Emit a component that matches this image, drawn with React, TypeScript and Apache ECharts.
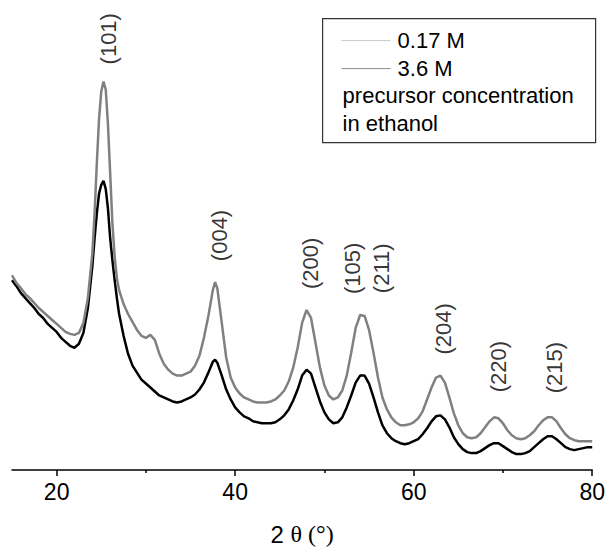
import React, { useEffect, useRef } from "react";
import * as echarts from "echarts";

// 2θ positions (degrees)
const twoTheta: number[] = [
  15.0, 15.5, 16.0, 16.5, 17.0, 17.5, 18.0, 18.5, 19.0, 19.5,
  20.0, 20.5, 21.0, 21.5, 22.0, 22.5, 23.0, 23.5, 24.0, 24.25,
  24.5, 24.75, 25.0, 25.25, 25.5, 25.75, 26.0, 26.25, 26.5, 26.75,
  27.0, 27.5, 28.0, 28.5, 29.0, 29.5, 30.0, 30.5, 31.0, 31.5,
  32.0, 32.5, 33.0, 33.5, 34.0, 34.5, 35.0, 35.5, 36.0, 36.5,
  37.0, 37.5, 37.75, 38.0, 38.5, 39.0, 39.5, 40.0, 40.5, 41.0,
  41.5, 42.0, 42.5, 43.0, 43.5, 44.0, 44.5, 45.0, 45.5, 46.0,
  46.5, 47.0, 47.5, 48.0, 48.5, 49.0, 49.5, 50.0, 50.5, 51.0,
  51.5, 52.0, 52.5, 53.0, 53.5, 54.0, 54.5, 55.0, 55.5, 56.0,
  56.5, 57.0, 57.5, 58.0, 58.5, 59.0, 59.5, 60.0, 60.5, 61.0,
  61.5, 62.0, 62.5, 63.0, 63.5, 64.0, 64.5, 65.0, 65.5, 66.0,
  66.5, 67.0, 67.5, 68.0, 68.5, 69.0, 69.5, 70.0, 70.5, 71.0,
  71.5, 72.0, 72.5, 73.0, 73.5, 74.0, 74.5, 75.0, 75.5, 76.0,
  76.5, 77.0, 77.5, 78.0, 78.5, 79.0, 79.5, 80.0,
];

// Intensity (a.u.), 0.17 M precursor (grey)
const int017: number[] = [
  196, 188, 183, 177, 173, 168, 163, 159, 155, 151,
  147, 143, 139, 137, 136, 138, 148, 173, 218, 258,
  308, 353, 381, 391, 383, 348, 298, 248, 215, 193,
  181, 167, 157, 149, 141, 135, 133, 136, 131, 117,
  107, 101, 97, 95, 95, 97, 99, 105, 115, 133,
  155, 181, 189, 183, 148, 113, 93, 83, 77, 73,
  71, 69, 68, 68, 68, 69, 71, 75, 80, 89,
  103, 123, 148, 161, 153, 128, 103, 85, 75, 71,
  73, 80, 95, 118, 143, 156, 155, 141, 118, 93,
  73, 61, 53, 48, 45, 45, 46, 48, 52, 59,
  71, 83, 93, 95, 88, 73, 57, 45, 37, 33,
  32, 33, 37, 43, 49, 53, 52, 47, 40, 35,
  32, 31, 32, 35, 39, 45, 50, 53, 53, 49,
  42, 36, 32, 30, 29, 29, 29, 29,
];

// Intensity (a.u.), 3.6 M precursor (black)
const int36: number[] = [
  191, 185, 178, 173, 168, 163, 157, 153, 147, 143,
  139, 133, 129, 125, 123, 127, 138, 163, 205, 233,
  258, 278, 287, 291, 283, 263, 233, 211, 191, 173,
  157, 135, 117, 105, 98, 91, 87, 83, 79, 75,
  73, 71, 69, 68, 69, 71, 73, 76, 81, 88,
  98, 109, 111, 108, 95, 81, 71, 63, 58, 54,
  52, 49, 48, 47, 47, 47, 48, 51, 55, 61,
  70, 81, 95, 101, 97, 83, 69, 58, 51, 47,
  48, 53, 63, 75, 88, 95, 95, 87, 73, 58,
  45, 37, 32, 29, 27, 26, 27, 29, 31, 36,
  42, 49, 54, 55, 51, 43, 33, 26, 21, 18,
  17, 17, 19, 22, 25, 27, 27, 24, 21, 18,
  16, 16, 17, 19, 23, 27, 31, 34, 34, 31,
  27, 23, 21, 20, 21, 22, 23, 23,
];

// Reflection labels: [2θ, intensity position, text]
const peakLabelX: number[] = [25.84, 38.24, 48.41, 53.1, 56.34, 63.38, 69.53, 75.78];
const peakLabelY: number[] = [434, 236, 208, 203, 203, 142, 104, 103];
const peakLabelText: string[] = ["(101)", "(004)", "(200)", "(105)", "(211)", "(204)", "(220)", "(215)"];

const majorTicks: number[] = [20, 40, 60, 80];
const minorTicks: number[] = [30, 50, 70];

const seriesNames: string[] = ["0.17 M", "3.6 M"];
const legendNote: string[] = ["precursor concentration", "in ethanol"];

const FONT = "'Liberation Sans', Arial, sans-serif";

export default function App() {
  const ref = useRef<HTMLDivElement>(null);
  useEffect(() => {
    if (!ref.current) return;
    const chart = echarts.init(ref.current, undefined, { renderer: "svg" });
    const pts017 = twoTheta.map((x, i) => [x, int017[i]]);
    const pts36 = twoTheta.map((x, i) => [x, int36[i]]);
    const labels = peakLabelX.map((x, i) => ({ value: [x, peakLabelY[i]], name: peakLabelText[i] }));
    chart.setOption({
      animation: false,
      backgroundColor: "#ffffff",
      grid: { left: 12, right: 15, top: 0, bottom: 78 },
      xAxis: [
        {
          type: "value",
          min: 15,
          max: 80,
          name: "{a|2 }{b|θ (°)}",
          nameLocation: "middle",
          nameGap: 52,
          nameTextStyle: {
            rich: {
              a: { fontFamily: FONT, fontSize: 24, color: "#000" },
              b: { fontFamily: "'Liberation Serif', 'Times New Roman', serif", fontSize: 24, color: "#000" },
            },
          },
          axisLine: { show: true, onZero: false, lineStyle: { color: "#000", width: 1.5 } },
          axisTick: { show: true, customValues: majorTicks, length: 6, lineStyle: { color: "#000", width: 1.5 } },
          axisLabel: { show: true, customValues: majorTicks, fontFamily: FONT, fontSize: 23, color: "#000", margin: 10 },
          splitLine: { show: false },
        },
        {
          type: "value",
          min: 15,
          max: 80,
          position: "bottom",
          axisLine: { show: false },
          axisTick: { show: true, customValues: minorTicks, length: 3, lineStyle: { color: "#000", width: 1.5 } },
          axisLabel: { show: false },
          splitLine: { show: false },
        },
      ],
      yAxis: { type: "value", min: 0, max: 473, show: false },
      series: [
        {
          name: seriesNames[1],
          type: "line",
          data: pts36,
          showSymbol: false,
          symbol: "none",
          lineStyle: { color: "#000000", width: 2.5 },
          z: 2,
        },
        {
          name: seriesNames[0],
          type: "line",
          data: pts017,
          showSymbol: false,
          symbol: "none",
          lineStyle: { color: "#808080", width: 2.5 },
          z: 3,
        },
        {
          name: "labels",
          type: "scatter",
          data: labels,
          symbolSize: 0,
          label: {
            show: true,
            position: "inside",
            rotate: 90,
            formatter: (p: any) => p.name,
            fontFamily: FONT,
            fontSize: 22,
            color: "#000",
          },
          z: 5,
        },
      ],
      graphic: [
        {
          type: "group",
          left: 322,
          top: 18,
          children: [
            { type: "rect", shape: { x: 0, y: 0, width: 273, height: 124 }, style: { fill: "#fff", stroke: "#333", lineWidth: 1.2 } },
            { type: "line", shape: { x1: 19, y1: 22, x2: 68, y2: 22 }, style: { stroke: "#c8c8c8", lineWidth: 1 } },
            { type: "text", x: 75, y: 22, style: { text: seriesNames[0], font: `22px ${FONT}`, fill: "#000", verticalAlign: "middle" } },
            { type: "line", shape: { x1: 19, y1: 50, x2: 68, y2: 50 }, style: { stroke: "#8a8a8a", lineWidth: 1 } },
            { type: "text", x: 75, y: 50, style: { text: seriesNames[1], font: `22px ${FONT}`, fill: "#000", verticalAlign: "middle" } },
            { type: "text", x: 20, y: 77, style: { text: legendNote[0], font: `22px ${FONT}`, fill: "#000", verticalAlign: "middle" } },
            { type: "text", x: 20, y: 105, style: { text: legendNote[1], font: `22px ${FONT}`, fill: "#000", verticalAlign: "middle" } },
          ],
        },
      ],
    });
    return () => chart.dispose();
  }, []);
  return <div ref={ref} style={{ position: "fixed", left: 0, top: 0, width: 608, height: 551 }} />;
}
